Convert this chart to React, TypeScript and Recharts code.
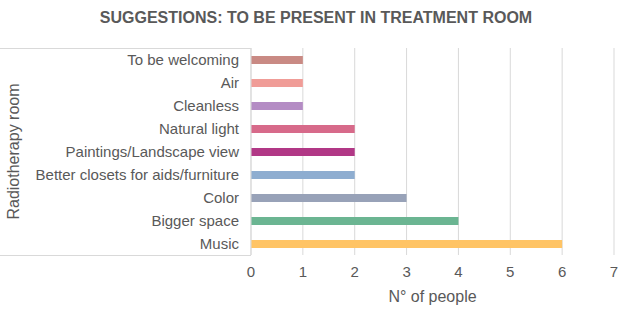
import React from "react";
import { BarChart, Bar, XAxis, YAxis, CartesianGrid, Cell, Label } from "recharts";

const categories = [
  "To be welcoming",
  "Air",
  "Cleanless",
  "Natural light",
  "Paintings/Landscape view",
  "Better closets for aids/furniture",
  "Color",
  "Bigger space",
  "Music",
];
const values = [1, 1, 1, 2, 2, 2, 3, 4, 6];
const colors = [
  "#C98A84",
  "#F09C97",
  "#B48CC4",
  "#D76A8A",
  "#B13886",
  "#8EADD0",
  "#98A2B8",
  "#6BB592",
  "#FFC465",
];
const xTicks = [0, 1, 2, 3, 4, 5, 6, 7];

const data = categories.map((c, i) => ({ name: c, value: values[i] }));

const FONT = "'Liberation Sans', Arial, sans-serif";
const GREY = "#595959";

export default function App() {
  return (
    <div style={{ position: "absolute", left: 0, top: 0, width: 632, height: 321, background: "#fff", fontFamily: FONT }}>
      <div
        style={{
          position: "absolute",
          top: 8,
          left: 0,
          width: 632,
          textAlign: "center",
          fontWeight: "bold",
          fontSize: 16,
          color: GREY,
          lineHeight: "20px",
        }}
      >
        SUGGESTIONS: TO BE PRESENT IN TREATMENT ROOM
      </div>
      <div style={{ position: "absolute", left: 0, top: 48, width: 251, height: 1, background: "#D9D9D9" }} />
      <div style={{ position: "absolute", left: 0, top: 255, width: 251, height: 1, background: "#D9D9D9" }} />
      <BarChart
        width={632}
        height={321}
        data={data}
        layout="vertical"
        margin={{ top: 48, right: 18, bottom: 20, left: 0 }}
        style={{ position: "absolute", left: 0, top: 0 }}
      >
        <CartesianGrid horizontal={false} stroke="#D9D9D9" />
        <XAxis
          type="number"
          domain={[0, 7]}
          ticks={xTicks}
          axisLine={false}
          tickLine={false}
          tick={{ fill: GREY, fontSize: 15, fontFamily: FONT }}
          tickMargin={5}
          height={46}
        >
          <Label value="N° of people" position="insideBottom" offset={-1} fill={GREY} fontSize={16} fontFamily={FONT} />
        </XAxis>
        <YAxis
          type="category"
          dataKey="name"
          width={251}
          axisLine={{ stroke: "#D9D9D9" }}
          tickLine={false}
          tickMargin={6}
          interval={0}
          tick={{ fill: GREY, fontSize: 15, fontFamily: FONT }}
        >
          <Label
            value="Radiotherapy room"
            angle={-90}
            position="insideLeft"
            offset={13}
            style={{ textAnchor: "middle" }}
            fill={GREY}
            fontSize={16}
            fontFamily={FONT}
          />
        </YAxis>
        <Bar dataKey="value" barSize={8} isAnimationActive={false}>
          {data.map((d, i) => (
            <Cell key={d.name} fill={colors[i]} />
          ))}
        </Bar>
      </BarChart>
    </div>
  );
}
